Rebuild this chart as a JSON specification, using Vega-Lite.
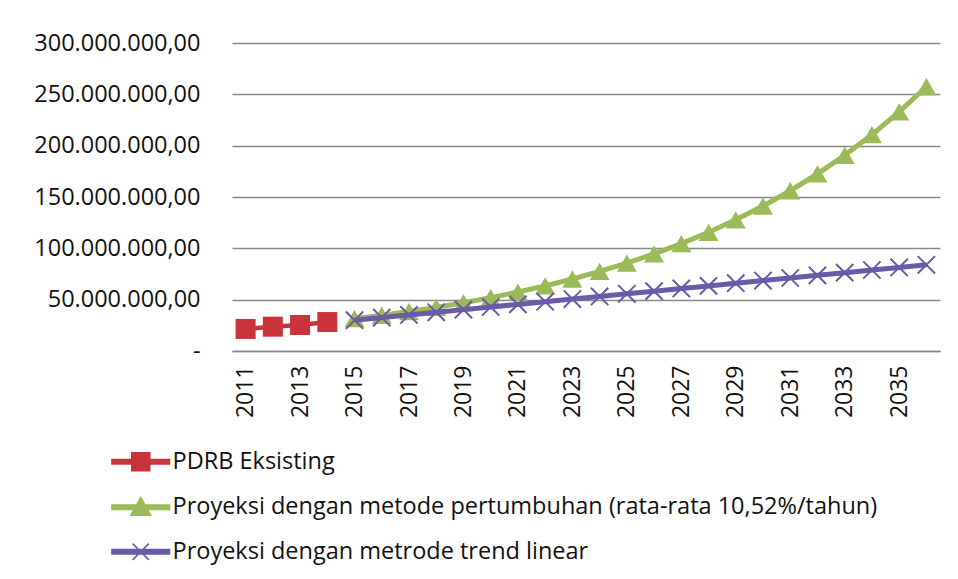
{
  "$schema": "https://vega.github.io/schema/vega-lite/v6.json",
  "autosize": "none",
  "width": 708,
  "height": 308,
  "padding": {"left": 232, "top": 43, "right": 18, "bottom": 228},
  "background": "white",
  "config": {
    "locale": {"number": {"decimal": ",", "thousands": ".", "grouping": [3], "currency": ["Rp", ""]}},
    "view": {"stroke": null},
    "font": "Open Sans"
  },
  "data": {
    "values": [
      {"year": "2011", "series": "PDRB Eksisting", "value": 21500000},
      {"year": "2012", "series": "PDRB Eksisting", "value": 23700000},
      {"year": "2013", "series": "PDRB Eksisting", "value": 25300000},
      {"year": "2014", "series": "PDRB Eksisting", "value": 28200000},
      {"year": "2015", "series": "G", "value": 31500000},
      {"year": "2016", "series": "G", "value": 34800000},
      {"year": "2017", "series": "G", "value": 38500000},
      {"year": "2018", "series": "G", "value": 42500000},
      {"year": "2019", "series": "G", "value": 47000000},
      {"year": "2020", "series": "G", "value": 52000000},
      {"year": "2021", "series": "G", "value": 57400000},
      {"year": "2022", "series": "G", "value": 63400000},
      {"year": "2023", "series": "G", "value": 70100000},
      {"year": "2024", "series": "G", "value": 77500000},
      {"year": "2025", "series": "G", "value": 85600000},
      {"year": "2026", "series": "G", "value": 94600000},
      {"year": "2027", "series": "G", "value": 104600000},
      {"year": "2028", "series": "G", "value": 115600000},
      {"year": "2029", "series": "G", "value": 127800000},
      {"year": "2030", "series": "G", "value": 141200000},
      {"year": "2031", "series": "G", "value": 156100000},
      {"year": "2032", "series": "G", "value": 172500000},
      {"year": "2033", "series": "G", "value": 190600000},
      {"year": "2034", "series": "G", "value": 210700000},
      {"year": "2035", "series": "G", "value": 232900000},
      {"year": "2036", "series": "G", "value": 257400000},
      {"year": "2015", "series": "L", "value": 30000000},
      {"year": "2016", "series": "L", "value": 32600000},
      {"year": "2017", "series": "L", "value": 35100000},
      {"year": "2018", "series": "L", "value": 37700000},
      {"year": "2019", "series": "L", "value": 40300000},
      {"year": "2020", "series": "L", "value": 42900000},
      {"year": "2021", "series": "L", "value": 45400000},
      {"year": "2022", "series": "L", "value": 48000000},
      {"year": "2023", "series": "L", "value": 50600000},
      {"year": "2024", "series": "L", "value": 53100000},
      {"year": "2025", "series": "L", "value": 55700000},
      {"year": "2026", "series": "L", "value": 58300000},
      {"year": "2027", "series": "L", "value": 60900000},
      {"year": "2028", "series": "L", "value": 63400000},
      {"year": "2029", "series": "L", "value": 66000000},
      {"year": "2030", "series": "L", "value": 68600000},
      {"year": "2031", "series": "L", "value": 71100000},
      {"year": "2032", "series": "L", "value": 73700000},
      {"year": "2033", "series": "L", "value": 76300000},
      {"year": "2034", "series": "L", "value": 78900000},
      {"year": "2035", "series": "L", "value": 81400000},
      {"year": "2036", "series": "L", "value": 84000000}
    ]
  },
  "transform": [
    {"calculate": "datum.series === 'G' ? 'Proyeksi dengan metode pertumbuhan (rata-rata 10,52%/tahun)' : datum.series === 'L' ? 'Proyeksi dengan metrode trend linear' : datum.series", "as": "Seri"}
  ],
  "encoding": {
    "x": {
      "field": "year", "type": "ordinal",
      "scale": {"type": "point", "padding": 0.5, "domain": ["2011","2012","2013","2014","2015","2016","2017","2018","2019","2020","2021","2022","2023","2024","2025","2026","2027","2028","2029","2030","2031","2032","2033","2034","2035","2036"]},
      "axis": {
        "title": null,
        "values": ["2011","2013","2015","2017","2019","2021","2023","2025","2027","2029","2031","2033","2035"],
        "labelAngle": -90, "labelAlign": "right", "labelBaseline": "middle",
        "labelFontSize": 23, "labelColor": "#111", "labelPadding": 14,
        "ticks": false, "domainColor": "#888", "domainWidth": 1.5, "grid": false
      }
    },
    "y": {
      "field": "value", "type": "quantitative",
      "scale": {"domain": [0, 300000000], "nice": false},
      "axis": {
        "title": null,
        "values": [0, 50000000, 100000000, 150000000, 200000000, 250000000, 300000000],
        "format": ",.2f",
        "labelExpr": "datum.value == 0 ? '-      ' : datum.label",
        "labelFontSize": 23.5, "labelColor": "#111", "labelPadding": 32,
        "ticks": false, "domain": false,
        "grid": true, "gridColor": "#888", "gridWidth": 1.5
      }
    }
  },
  "layer": [
    {
      "transform": [{"filter": "datum.series === 'PDRB Eksisting'"}],
      "mark": {"type": "line", "strokeWidth": 4.5},
      "encoding": {
        "color": {
          "field": "Seri", "type": "nominal",
          "scale": {
            "domain": ["PDRB Eksisting", "Proyeksi dengan metode pertumbuhan (rata-rata 10,52%/tahun)", "Proyeksi dengan metrode trend linear"],
            "range": ["#c9343a", "#9bbb59", "#6a5aa8"]
          },
          "legend": {
            "title": null, "orient": "none", "legendX": -103, "legendY": 407,
            "direction": "vertical",
            "labelFontSize": 23.5, "labelColor": "#111", "labelLimit": 0,
            "labelOffset": 20, "rowPadding": 19.5,
            "symbolSize": 324,
            "encode": {
              "symbols": {
                "update": {
                  "shape": {"signal": "datum.value === 'PDRB Eksisting' ? 'M-3.2,-0.25H3.2V0.25H-3.2Z M-1,-1H1V1H-1Z' : datum.value === 'Proyeksi dengan metrode trend linear' ? 'M-3.2,-0.25H3.2V0.25H-3.2Z M-0.9,-0.9L0.9,0.9M-0.9,0.9L0.9,-0.9' : 'M-3.2,-0.25H3.2V0.25H-3.2Z M0,-1.1L1.1,0.9H-1.1Z'"},
                  "fill": {"signal": "datum.value === 'PDRB Eksisting' ? '#c9343a' : datum.value === 'Proyeksi dengan metrode trend linear' ? '#6a5aa8' : '#9bbb59'"},
                  "stroke": {"signal": "datum.value === 'PDRB Eksisting' ? '#c9343a' : datum.value === 'Proyeksi dengan metrode trend linear' ? '#6a5aa8' : '#9bbb59'"},
                  "strokeWidth": {"value": 1.5},
                  "opacity": {"value": 1},
                  "fillOpacity": {"value": 1},
                  "size": {"value": 324}
                }
              }
            }
          }
        }
      }
    },
    {
      "transform": [{"filter": "datum.series === 'PDRB Eksisting'"}],
      "mark": {"type": "point", "shape": "square", "filled": true, "size": 400, "color": "#c9343a", "opacity": 1}
    },
    {
      "transform": [{"filter": "datum.series === 'G'"}],
      "mark": {"type": "line", "strokeWidth": 5},
      "encoding": {"color": {"field": "Seri", "type": "nominal"}}
    },
    {
      "transform": [{"filter": "datum.series === 'G'"}],
      "mark": {"type": "point", "shape": "triangle-up", "filled": true, "size": 400, "color": "#9bbb59", "opacity": 1}
    },
    {
      "transform": [{"filter": "datum.series === 'L'"}],
      "mark": {"type": "line", "strokeWidth": 5},
      "encoding": {"color": {"field": "Seri", "type": "nominal"}}
    },
    {
      "transform": [{"filter": "datum.series === 'L'"}],
      "mark": {"type": "point", "shape": "M-1,-1L1,1M-1,1L1,-1", "filled": false, "size": 300, "strokeWidth": 2, "color": "#6a5aa8", "opacity": 1}
    }
  ]
}
